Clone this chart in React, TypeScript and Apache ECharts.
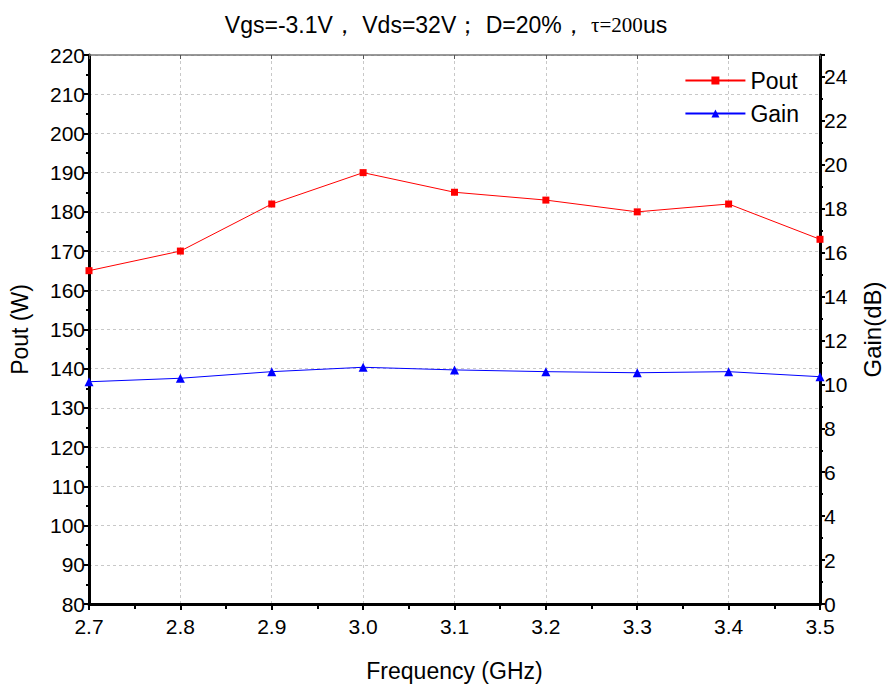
import React, { useEffect, useRef } from "react";
import * as echarts from "echarts";

const freq = [2.7, 2.8, 2.9, 3.0, 3.1, 3.2, 3.3, 3.4, 3.5];
const pout = [165, 170, 182, 190, 185, 183, 180, 182, 173];
const gain = [10.12, 10.28, 10.58, 10.78, 10.66, 10.58, 10.53, 10.58, 10.35];

const FONT = "'Liberation Sans', Arial, sans-serif";

export default function App() {
  const ref = useRef<HTMLDivElement>(null);
  useEffect(() => {
    const chart = echarts.init(ref.current!, null, { renderer: "svg" });
    const axisText = { color: "#000", fontSize: 21, fontFamily: FONT };
    chart.setOption({
      animation: false,
      backgroundColor: "#fff",
      title: {
        text: "{a|Vgs=-3.1V， Vds=32V； D=20%， }{b|τ=200}{a|us}",
        left: "center",
        top: 8,
        textStyle: {
          fontWeight: "normal",
          rich: {
            a: { fontSize: 23, fontFamily: FONT, color: "#000", fontWeight: "normal" },
            b: { fontSize: 21, fontFamily: "'Liberation Serif', 'Times New Roman', serif", color: "#000", fontWeight: "normal" },
          },
        },
      },
      legend: {
        right: 88,
        top: 64,
        orient: "vertical",
        itemWidth: 60,
        itemHeight: 10,
        itemGap: 10,
        textStyle: { fontSize: 23, fontFamily: FONT, color: "#000" },
        data: [{ name: "Pout" }, { name: "Gain" }],
      },
      grid: { left: 89, right: 65, top: 55, bottom: 83 },
      xAxis: [
        {
          type: "value",
          min: 2.7,
          max: 3.5,
          interval: 0.1,
          name: "Frequency (GHz)",
          nameLocation: "middle",
          nameGap: 55,
          nameTextStyle: { fontSize: 23, fontFamily: FONT, color: "#000" },
          axisLine: { lineStyle: { color: "#000", width: 3 } },
          axisTick: { show: true, length: 6, lineStyle: { color: "#000", width: 2 } },
          minorTick: { show: true, splitNumber: 2, length: 5, lineStyle: { color: "#000", width: 2 } },
          axisLabel: { ...axisText, margin: 12, formatter: (v: number) => v.toFixed(1) },
          splitLine: { show: true, lineStyle: { color: "#c8c8c8", type: [3, 3], width: 1 } },
        },
        {
          type: "value",
          position: "top",
          min: 2.7,
          max: 3.5,
          interval: 0.1,
          axisLine: { lineStyle: { color: "#777", width: 1.5 } },
          axisTick: { show: true, inside: true, length: 4, lineStyle: { color: "#555" } },
          axisLabel: { show: false },
          splitLine: { show: false },
        },
      ],
      yAxis: [
        {
          type: "value",
          min: 80,
          max: 220,
          interval: 10,
          name: "Pout (W)",
          nameLocation: "middle",
          nameGap: 58,
          nameTextStyle: { fontSize: 23, fontFamily: FONT, color: "#000" },
          axisLine: { show: true, lineStyle: { color: "#000", width: 3 } },
          axisTick: { show: true, length: 5, lineStyle: { color: "#000", width: 2 } },
          minorTick: { show: true, splitNumber: 2, length: 3, lineStyle: { color: "#000", width: 2 } },
          axisLabel: { ...axisText, margin: 4 },
          splitLine: { show: true, lineStyle: { color: "#c8c8c8", type: [3, 3], width: 1 } },
        },
        {
          type: "value",
          min: 0,
          max: 25,
          interval: 2,
          position: "right",
          name: "Gain(dB)",
          nameLocation: "middle",
          nameGap: 40,
          nameRotate: 90,
          nameTextStyle: { fontSize: 24, fontFamily: FONT, color: "#000" },
          axisLine: { show: true, lineStyle: { color: "#000", width: 3 } },
          axisTick: { show: true, length: 5, lineStyle: { color: "#000", width: 2 } },
          minorTick: { show: true, splitNumber: 2, length: 3, lineStyle: { color: "#000", width: 2 } },
          axisLabel: { ...axisText, margin: 4, showMaxLabel: false },
          splitLine: { show: false },
        },
      ],
      series: [
        {
          name: "Pout",
          type: "line",
          xAxisIndex: 0,
          yAxisIndex: 0,
          data: freq.map((f, i) => [f, pout[i]]),
          symbol: "rect",
          symbolSize: 7,
          itemStyle: { color: "#ff0000" },
          lineStyle: { color: "#ff0000", width: 1 },
        },
        {
          name: "Gain",
          type: "line",
          xAxisIndex: 0,
          yAxisIndex: 1,
          data: freq.map((f, i) => [f, gain[i]]),
          symbol: "triangle",
          symbolSize: 9,
          itemStyle: { color: "#0000ff" },
          lineStyle: { color: "#0000ff", width: 1 },
        },
      ],
    });
    return () => chart.dispose();
  }, []);
  return <div ref={ref} style={{ width: 892, height: 687, position: "absolute", left: 0, top: 0 }} />;
}
